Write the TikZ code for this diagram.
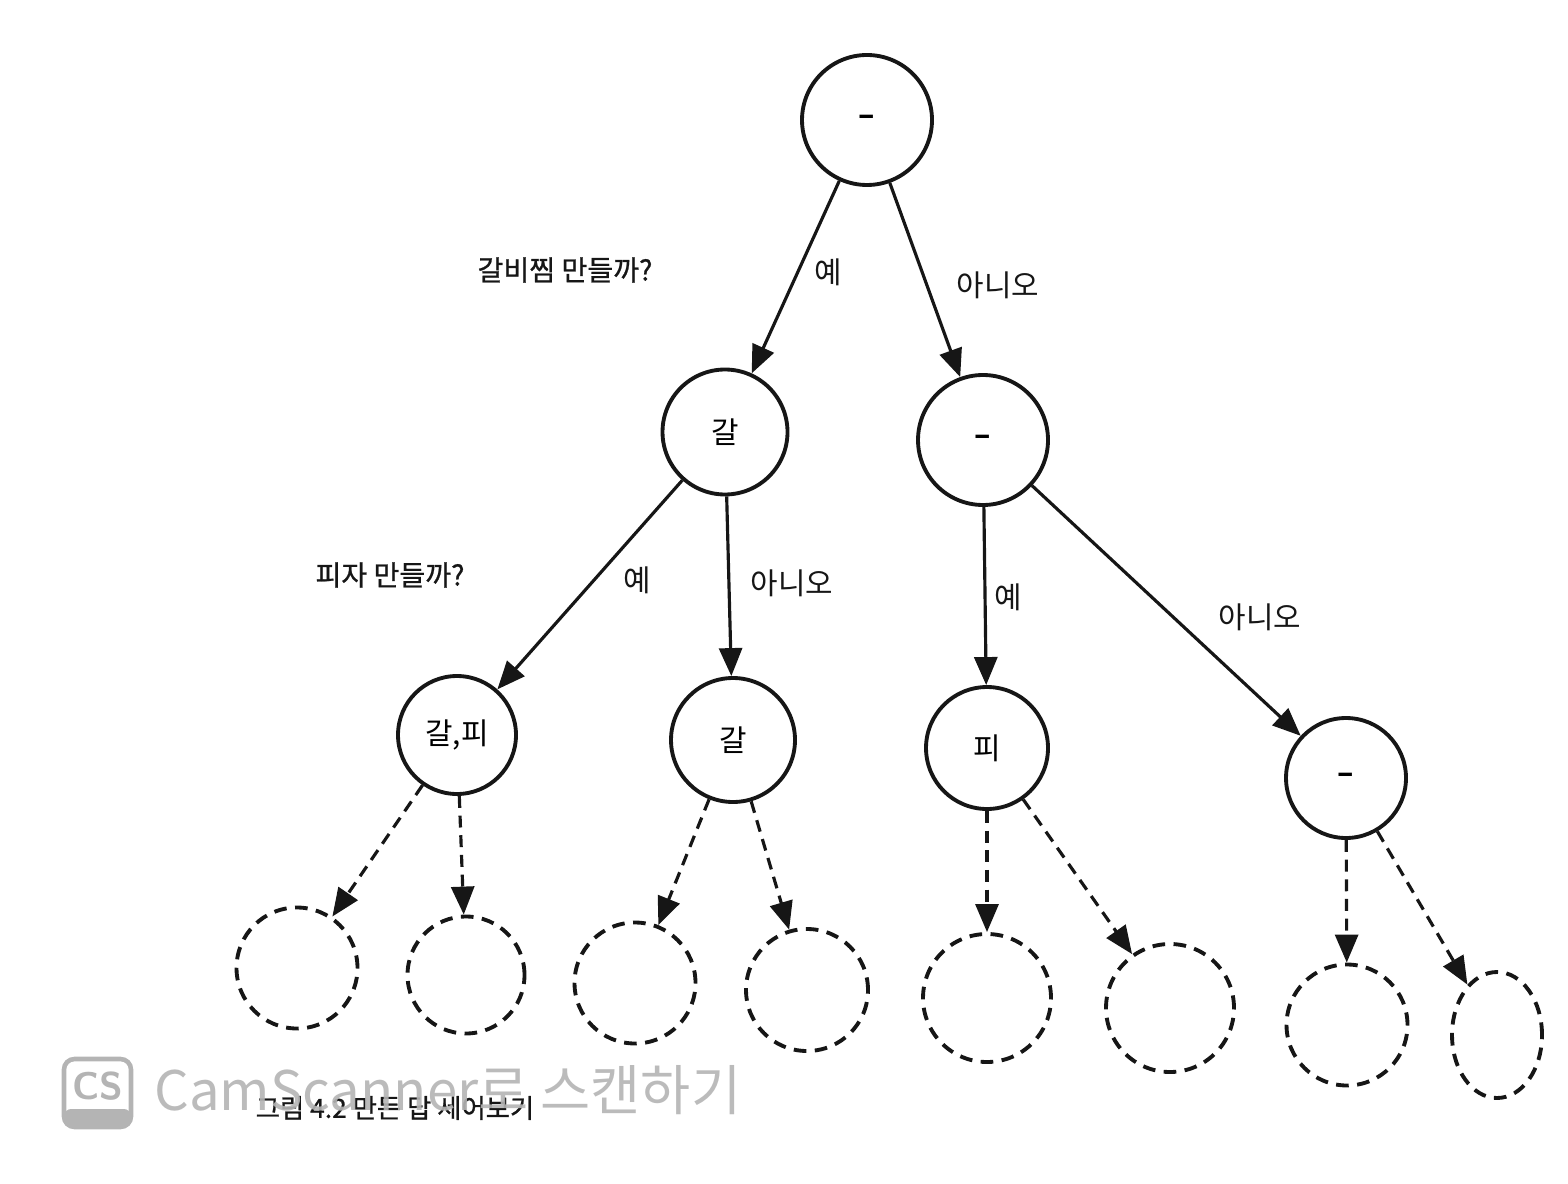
\documentclass[tikz,border=0pt]{standalone}
\usepackage{fontspec}
\newfontfamily\krfont{Noto Sans CJK KR}
\newfontfamily\krsemi[FakeBold=0.9]{Noto Sans CJK KR}
\usetikzlibrary{arrows.meta,shapes.geometric}
\definecolor{inkdark}{RGB}{22,22,22}
\definecolor{scangray}{RGB}{180,180,180}
\tikzset{
  statenode/.style={circle, draw=inkdark, line width=1.1pt, inner sep=0pt,
    font=\krfont\fontsize{8.5}{10}\selectfont},
  opennode/.style={statenode, dash pattern=on 3.6pt off 2.4pt},
  choicearr/.style={-{Triangle[length=2.8mm,width=2.3mm]}, line width=0.9pt, inkdark},
  nextarr/.style={choicearr, dash pattern=on 3.4pt off 2.2pt},
  anslbl/.style={font=\krfont\fontsize{8.5}{10}\selectfont, inkdark},
  asklbl/.style={font=\krsemi\fontsize{8}{10}\selectfont, inkdark},
}
\newcommand{\nonechosen}{{\bfseries –}}
\begin{document}
\begin{tikzpicture}
    \useasboundingbox (0,0) rectangle (15.68,-11.84);
    % --- decided so far ---
    \node[statenode, minimum size=1.30cm] (root) at (8.67,-1.20) {\nonechosen};
    \node[statenode, minimum size=1.25cm] (y1) at (7.25,-4.32) {갈};
    \node[statenode, minimum size=1.30cm] (n1) at (9.83,-4.40) {\nonechosen};
    \node[statenode, minimum size=1.18cm] (yy) at (4.57,-7.35) {갈,피};
    \node[statenode, minimum size=1.24cm] (yn) at (7.33,-7.40) {갈};
    \node[statenode, minimum size=1.22cm] (ny) at (9.87,-7.48) {피};
    \node[statenode, minimum size=1.20cm] (nn) at (13.46,-7.78) {\nonechosen};
    % --- still open ---
    \node[opennode, minimum size=1.21cm] (yya) at (2.97,-9.68) {};
    \node[opennode, minimum size=1.17cm] (yyb) at (4.66,-9.75) {};
    \node[opennode, minimum size=1.21cm] (yna) at (6.35,-9.83) {};
    \node[opennode, minimum size=1.22cm] (ynb) at (8.07,-9.90) {};
    \node[opennode, minimum size=1.28cm] (nya) at (9.87,-9.98) {};
    \node[opennode, minimum size=1.28cm] (nyb) at (11.70,-10.08) {};
    \node[opennode, minimum size=1.21cm] (nna) at (13.47,-10.25) {};
    \node[opennode, ellipse, minimum width=0.90cm, minimum height=1.26cm] (nnb) at (14.97,-10.35) {};
    % choices
    \draw[choicearr] (root) -- (y1);
    \draw[choicearr] (root) -- (n1);
    \draw[choicearr] (y1) -- (yy);
    \draw[choicearr] (y1) -- (yn);
    \draw[choicearr] (n1) -- (ny);
    \draw[choicearr] (n1) -- (nn);
    \draw[nextarr] (yy) -- (yya);
    \draw[nextarr] (yy) -- (yyb);
    \draw[nextarr] (yn) -- (yna);
    \draw[nextarr] (yn) -- (ynb);
    \draw[nextarr] (ny) -- (nya);
    \draw[nextarr] (ny) -- (nyb);
    \draw[nextarr] (nn) -- (nna);
    \draw[nextarr] (nn) -- (nnb);
    % questions and answers
    \node[asklbl] (ask1) at (5.65,-2.70) {갈비찜 만들까?};
    \node[anslbl] (ans1y) at (8.28,-2.72) {예};
    \node[anslbl] (ans1n) at (9.98,-2.85) {아니오};
    \node[asklbl] (ask2) at (3.90,-5.75) {피자 만들까?};
    \node[anslbl] (ans2y) at (6.37,-5.80) {예};
    \node[anslbl] (ans2n) at (7.92,-5.83) {아니오};
    \node[anslbl] (ans3y) at (10.08,-5.97) {예};
    \node[anslbl] (ans3n) at (12.60,-6.17) {아니오};
    % --- caption and scan mark ---
    \node[font=\krsemi\fontsize{7.5}{9}\selectfont, inkdark] (caption) at (3.95,-11.08) {그림 4.2 만든 답 세어보기};
    \draw[scangray, line width=1.3pt, rounded corners=3pt] (0.64,-10.59) rectangle (1.31,-11.27);
    \fill[scangray, rounded corners=2pt] (0.64,-11.09) rectangle (1.31,-11.27);
    \node[font=\sffamily\bfseries\fontsize{11}{12}\selectfont, scangray] (csmark) at (0.975,-10.86) {CS};
    \node[font=\krfont\fontsize{15.5}{18}\selectfont, scangray, opacity=0.9, anchor=west] (scantext) at (1.42,-10.90) {CamScanner로 스캔하기};
\end{tikzpicture}
\end{document}
